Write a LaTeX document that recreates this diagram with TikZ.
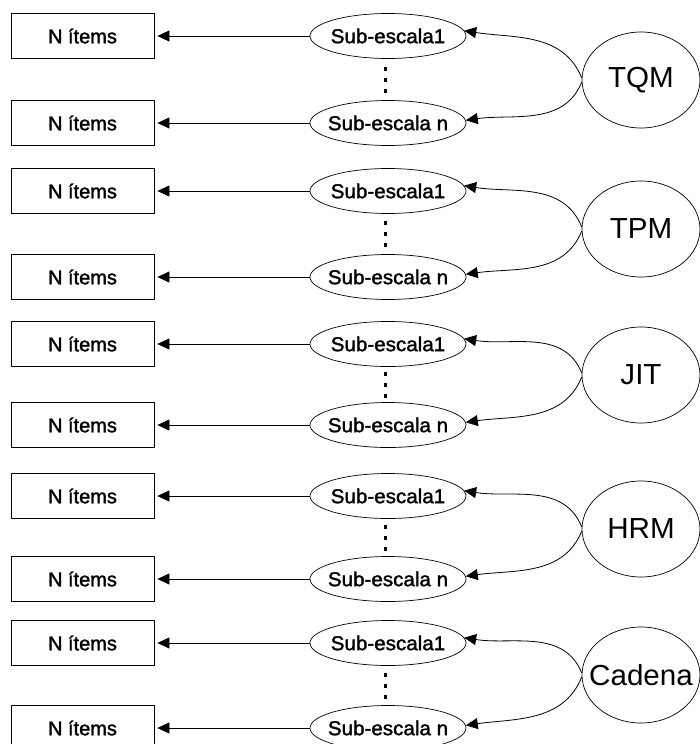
\documentclass[tikz,border=0pt]{standalone}
\usepackage{fontspec}
\setmainfont{Liberation Sans}
\newfontfamily\lblfont[FakeBold=1.6]{Liberation Sans}
\usetikzlibrary{shapes.geometric,arrows.meta}
\newcommand{\stretchtxt}[2]{\makebox[0pt]{\scalebox{#1}[1]{#2}}}
\begin{document}
\begin{tikzpicture}[x=1pt,y=1pt,
  itembox/.style={draw,line width=0.8pt,minimum width=143pt,minimum height=45pt,
    inner sep=0pt,font=\lblfont\fontsize{20}{22}\selectfont},
  subscale/.style={ellipse,draw,line width=0.7pt,minimum width=156pt,minimum height=45pt,
    inner sep=0pt,font=\lblfont\fontsize{20}{22}\selectfont},
  area/.style={ellipse,draw,line width=0.7pt,minimum width=118pt,minimum height=96pt,
    inner sep=0pt,font=\fontsize{29}{31}\selectfont},
  arr/.style={line width=0.8pt,-{Triangle[length=12pt,width=11pt]}}]
\useasboundingbox[fill=white] (0,0) rectangle (699,-744);

% one block per construct: two item boxes, two sub-scales, one construct
\foreach \name/\ya/\yb/\ye [count=\k] in
  {TQM/36/123/80, TPM/191/277/229, JIT/344/425/375, HRM/496/579/529, Cadena/643/728/675} {
  \node[itembox] (ia\k) at (82.5,-\ya) {\stretchtxt{1.0}{N ítems}};
  \node[itembox] (ib\k) at (82.5,-\yb) {\stretchtxt{1.0}{N ítems}};
  \node[subscale] (sa\k) at (388,-\ya) {\stretchtxt{1.03}{Sub-escala1}};
  \node[subscale] (sb\k) at (388,-\yb) {\stretchtxt{1.03}{Sub-escala n}};
  \node[area] (c\k) at (641,-\ye) {\stretchtxt{1.02}{\name}};
  % vertical ellipsis between the two sub-scales
  \foreach \d in {-11,0,11}
    \fill ({383.5},{-(\ya+\yb)/2+\d-2}) rectangle ++(3,4);
  \draw[arr,shorten >=3pt] (sa\k.west) -- (ia\k.east);
  \draw[arr,shorten >=3pt] (sb\k.west) -- (ib\k.east);
  \draw[arr] (c\k.178) to[out=112,in=-9] (sa\k.4);
  \draw[arr] (c\k.182) to[out=-112,in=8] (sb\k.2);
}
\end{tikzpicture}
\end{document}
